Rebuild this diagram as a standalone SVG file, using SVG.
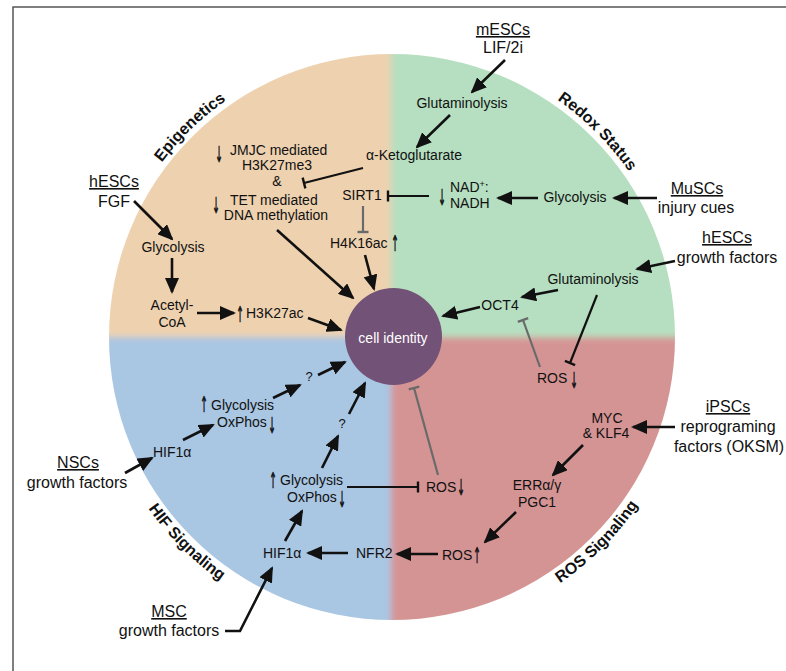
<svg xmlns="http://www.w3.org/2000/svg" width="786" height="671" viewBox="0 0 786 671">
<defs>
<style>
text{font-family:"Liberation Sans",Arial,"DejaVu Sans",sans-serif;fill:#111}
.t{font-size:14px}
.c{text-anchor:middle}
.o{font-size:16px}
.u{text-decoration:underline}
.ttl{font-size:16px;font-weight:bold}
.w{fill:#fff;font-size:14px;text-anchor:middle}
.ar{font-family:"DejaVu Sans",sans-serif;font-size:15px;text-anchor:middle;fill:#111;stroke:#111;stroke-width:0.5}
.ln{stroke:#111;stroke-width:2.6;fill:none}
.inh{stroke:#111;stroke-width:2.2;fill:none}
.ginh{stroke:#6a6a6a;stroke-width:2.2;fill:none}
.q{font-size:13px}
</style>
<marker id="ah" viewBox="0 0 16 14" refX="14" refY="7" markerWidth="16" markerHeight="14" orient="auto" markerUnits="userSpaceOnUse"><path d="M0,0 L16,7 L0,14 z" fill="#111"/></marker>
<marker id="tb" viewBox="-2 -7 4 14" refX="0" refY="0" markerWidth="4" markerHeight="14" orient="auto" markerUnits="userSpaceOnUse"><path d="M0,-5.5 V5.5" stroke="#111" stroke-width="2.4"/></marker>
<marker id="gtb" viewBox="-2 -7 4 14" refX="0" refY="0" markerWidth="4" markerHeight="14" orient="auto" markerUnits="userSpaceOnUse"><path d="M0,-5.5 V5.5" stroke="#6a6a6a" stroke-width="2.4"/></marker>
<clipPath id="cc"><circle cx="392" cy="337" r="283"/></clipPath>
<filter id="soft" x="-10%" y="-10%" width="120%" height="120%"><feGaussianBlur stdDeviation="3"/></filter>
<path id="topArc" d="M103,337 A289,289 0 0 1 681,337"/>
<path id="botArc" d="M94,337 A298,298 0 0 0 690,337"/>
</defs>
<rect x="13" y="7" width="800" height="700" fill="none" stroke="#555" stroke-width="1.5"/>
<g id="background" clip-path="url(#cc)">
<g filter="url(#soft)">
<rect x="90" y="40" width="301" height="297" fill="#eed2b0"/>
<rect x="391" y="40" width="301" height="297" fill="#b5dfc0"/>
<rect x="90" y="337" width="301" height="297" fill="#a9c6e3"/>
<rect x="391" y="337" width="301" height="297" fill="#d59494"/>
</g>
</g>
<g id="titles">
<text class="ttl"><textPath href="#topArc" startOffset="25.6%" text-anchor="middle">Epigenetics</textPath></text>
<text class="ttl"><textPath href="#topArc" startOffset="75%" text-anchor="middle">Redox Status</textPath></text>
<text class="ttl"><textPath href="#botArc" startOffset="25%" text-anchor="middle">HIF Signaling</textPath></text>
<text class="ttl"><textPath href="#botArc" startOffset="75%" text-anchor="middle">ROS Signaling</textPath></text>
</g>
<g id="connectors">
<line class="ln" x1="134" y1="201" x2="172" y2="239" marker-end="url(#ah)"/>
<line class="ln" x1="172" y1="258" x2="172" y2="292" marker-end="url(#ah)"/>
<line class="ln" x1="197" y1="313" x2="234" y2="313" marker-end="url(#ah)"/>
<line class="ln" x1="308" y1="318" x2="341" y2="330" marker-end="url(#ah)"/>
<line class="ln" x1="277" y1="230" x2="353" y2="298" marker-end="url(#ah)"/>
<line class="ln" x1="365" y1="255" x2="374" y2="289" marker-end="url(#ah)"/>
<line class="inh" x1="363" y1="168" x2="304" y2="183" marker-end="url(#tb)"/>
<line class="inh" x1="429" y1="196" x2="388" y2="196" marker-end="url(#tb)"/>
<line class="ginh" x1="363" y1="206" x2="363" y2="232" marker-end="url(#gtb)"/>
<line class="ln" x1="505" y1="60" x2="472" y2="92" marker-end="url(#ah)"/>
<line class="ln" x1="450" y1="115" x2="417" y2="147" marker-end="url(#ah)"/>
<line class="ln" x1="538" y1="198" x2="498" y2="198" marker-end="url(#ah)"/>
<line class="ln" x1="657" y1="198" x2="614" y2="198" marker-end="url(#ah)"/>
<line class="ln" x1="675" y1="261" x2="637" y2="269" marker-end="url(#ah)"/>
<line class="ln" x1="558" y1="290" x2="522" y2="297" marker-end="url(#ah)"/>
<line class="ln" x1="480" y1="307" x2="443" y2="316" marker-end="url(#ah)"/>
<line class="inh" x1="597" y1="295" x2="570" y2="363" marker-end="url(#tb)"/>
<line class="ginh" x1="540" y1="367" x2="523" y2="320" marker-end="url(#gtb)"/>
<line class="ln" x1="675" y1="427" x2="633" y2="427" marker-end="url(#ah)"/>
<line class="ln" x1="583" y1="445" x2="553" y2="475" marker-end="url(#ah)"/>
<line class="ln" x1="516" y1="512" x2="485" y2="542" marker-end="url(#ah)"/>
<line class="ln" x1="438" y1="554" x2="397" y2="554" marker-end="url(#ah)"/>
<line class="inh" x1="347" y1="487" x2="418" y2="487" marker-end="url(#tb)"/>
<line class="ginh" x1="438" y1="475" x2="414" y2="388" marker-end="url(#gtb)"/>
<line class="ln" x1="348" y1="553" x2="308" y2="553" marker-end="url(#ah)"/>
<line class="ln" x1="285" y1="541" x2="302" y2="511" marker-end="url(#ah)"/>
<line class="ln" x1="322" y1="468" x2="338" y2="436" marker-end="url(#ah)"/>
<line class="ln" x1="349" y1="414" x2="365" y2="383" marker-end="url(#ah)"/>
<polyline class="ln" points="225,631 240,631 272,568" marker-end="url(#ah)"/>
<line class="ln" x1="125" y1="473" x2="152" y2="458" marker-end="url(#ah)"/>
<line class="ln" x1="183" y1="440" x2="213" y2="425" marker-end="url(#ah)"/>
<line class="ln" x1="273" y1="398" x2="300" y2="385" marker-end="url(#ah)"/>
<line class="ln" x1="318" y1="375" x2="345" y2="362" marker-end="url(#ah)"/>
</g>
<g id="cell_identity">
<circle cx="393.5" cy="336.5" r="48.5" fill="#725277"/>
<text class="w" x="393" y="343">cell identity</text>
</g>
<g id="hESCs_FGF"><text class="o c u" x="114" y="187">hESCs</text><text class="o c" x="114" y="207">FGF</text></g>
<g id="glycolysis_epi"><text class="t c" x="173" y="252">Glycolysis</text></g>
<g id="acetyl_coa"><text class="t c" x="172" y="310">Acetyl-</text><text class="t c" x="172" y="327">CoA</text></g>
<g id="h3k27ac"><text class="ar" transform="translate(240,322) scale(0.6,1.45)">↑</text><text class="t" x="246" y="318">H3K27ac</text></g>
<g id="jmjc_tet">
<text class="ar" transform="translate(219,162) scale(0.6,1.45)">↓</text><text class="t" x="230" y="155">JMJC mediated</text>
<text class="t c" x="277" y="170">H3K27me3</text>
<text class="t c" x="277" y="186">&amp;</text>
<text class="ar" transform="translate(216,213) scale(0.6,1.45)">↓</text><text class="t" x="230" y="205">TET mediated</text>
<text class="t c" x="276" y="220">DNA methylation</text>
</g>
<g id="akg"><text class="t c" x="414" y="160">α-Ketoglutarate</text></g>
<g id="sirt1"><text class="t c" x="362" y="200">SIRT1</text></g>
<g id="h4k16ac"><text class="t" x="330" y="248">H4K16ac</text><text class="ar" transform="translate(395,251) scale(0.6,1.45)">↑</text></g>
<g id="mESCs"><text class="o c u" x="503" y="35">mESCs</text><text class="o c" x="503" y="53">LIF/2i</text></g>
<g id="glutaminolysis_top"><text class="t c" x="462" y="108">Glutaminolysis</text></g>
<g id="nad_nadh"><text class="ar" transform="translate(442,205) scale(0.6,1.45)">↓</text><text class="t" x="450" y="192">NAD<tspan font-size="9" dy="-5">+</tspan><tspan dy="5">:</tspan></text><text class="t" x="450" y="208">NADH</text></g>
<g id="glycolysis_redox"><text class="t c" x="575" y="202">Glycolysis</text></g>
<g id="MuSCs"><text class="o c u" x="697" y="194">MuSCs</text><text class="o c" x="696" y="213">injury cues</text></g>
<g id="hESCs_gf"><text class="o c u" x="727" y="243">hESCs</text><text class="o c" x="727" y="263">growth factors</text></g>
<g id="glutaminolysis_right"><text class="t c" x="593" y="284">Glutaminolysis</text></g>
<g id="oct4"><text class="t c" x="500" y="310">OCT4</text></g>
<g id="ros_down_right"><text class="t" x="537" y="383">ROS</text><text class="ar" transform="translate(574,388) scale(0.6,1.45)">↓</text></g>
<g id="myc_klf4"><text class="t c" x="607" y="423">MYC</text><text class="t c" x="606" y="438">&amp; KLF4</text></g>
<g id="iPSCs"><text class="o c u" x="728" y="412">iPSCs</text><text class="o c" x="728" y="432">reprograming</text><text class="o c" x="729" y="452">factors (OKSM)</text></g>
<g id="err_pgc1"><text class="t c" x="537" y="490">ERRα/γ</text><text class="t c" x="537" y="507">PGC1</text></g>
<g id="ros_up"><text class="t" x="442" y="560">ROS</text><text class="ar" transform="translate(477,563) scale(0.6,1.45)">↑</text></g>
<g id="ros_down_mid"><text class="t" x="426" y="492">ROS</text><text class="ar" transform="translate(461,495) scale(0.6,1.45)">↓</text></g>
<g id="nfr2"><text class="t" x="356" y="558">NFR2</text></g>
<g id="hif1a_low"><text class="t" x="263" y="558">HIF1α</text></g>
<g id="glyc_oxphos_low"><text class="ar" transform="translate(273,488) scale(0.6,1.45)">↑</text><text class="t" x="280" y="485">Glycolysis</text><text class="t" x="287" y="502">OxPhos</text><text class="ar" transform="translate(342,507) scale(0.6,1.45)">↓</text></g>
<g id="q_low"><text class="q c" x="342" y="428">?</text></g>
<g id="q_up"><text class="q c" x="309" y="381">?</text></g>
<g id="glyc_oxphos_up"><text class="ar" transform="translate(204,412) scale(0.6,1.45)">↑</text><text class="t" x="211" y="410">Glycolysis</text><text class="t" x="217" y="427">OxPhos</text><text class="ar" transform="translate(272,433) scale(0.6,1.45)">↓</text></g>
<g id="hif1a_up"><text class="t" x="153" y="457">HIF1α</text></g>
<g id="NSCs"><text class="o c u" x="78" y="468">NSCs</text><text class="o c" x="77" y="488">growth factors</text></g>
<g id="MSC"><text class="o c u" x="169" y="617">MSC</text><text class="o c" x="169" y="636">growth factors</text></g>
</svg>
